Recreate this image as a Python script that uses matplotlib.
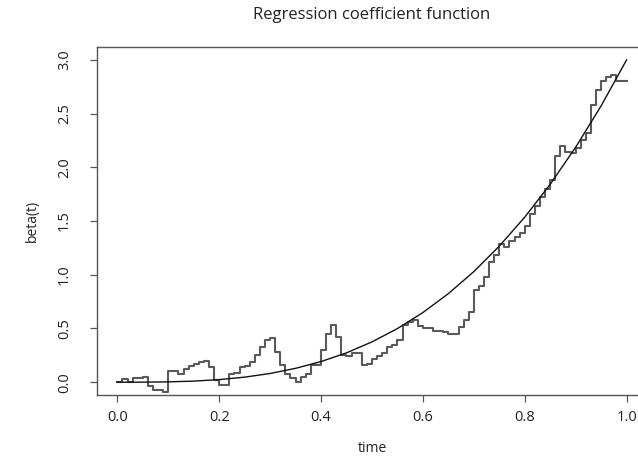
import numpy as np
import matplotlib
matplotlib.use("Agg")
import matplotlib.pyplot as plt

plt.rcParams['font.family'] = ['Open Sans', 'DejaVu Sans']

# true coefficient curve
curve_t = [0.0, 0.05, 0.1, 0.15, 0.2, 0.25, 0.3, 0.35, 0.4, 0.45, 0.5,
           0.55, 0.6, 0.65, 0.7, 0.75, 0.8, 0.85, 0.9, 0.95, 1.0]
curve_beta = [0.0, 0.0, 0.003, 0.01, 0.024, 0.047, 0.081, 0.129, 0.192, 0.273, 0.375,
              0.499, 0.648, 0.824, 1.029, 1.266, 1.536, 1.842, 2.187, 2.572, 3.0]

# step estimate, one value per 0.01 (last value closes the step at t=1)
step_t = [i / 100 for i in range(101)]
step_beta = [0.0, 0.03, 0.0, 0.04, 0.04, 0.05, -0.04, -0.07, -0.07, -0.09,
             0.1, 0.1, 0.08, 0.12, 0.15, 0.17, 0.19, 0.2, 0.14, 0.02,
             -0.03, -0.03, 0.08, 0.09, 0.14, 0.15, 0.19, 0.25, 0.33, 0.39,
             0.41, 0.28, 0.16, 0.08, 0.04, 0.0, 0.05, 0.08, 0.16, 0.16,
             0.3, 0.45, 0.53, 0.42, 0.25, 0.24, 0.27, 0.27, 0.16, 0.17,
             0.22, 0.24, 0.27, 0.33, 0.35, 0.39, 0.53, 0.56, 0.58, 0.52,
             0.5, 0.5, 0.48, 0.48, 0.47, 0.45, 0.45, 0.51, 0.58, 0.65,
             0.86, 0.9, 0.98, 1.12, 1.18, 1.29, 1.26, 1.31, 1.35, 1.39,
             1.45, 1.57, 1.64, 1.72, 1.8, 1.88, 2.11, 2.2, 2.14, 2.13,
             2.18, 2.25, 2.32, 2.58, 2.72, 2.8, 2.84, 2.86, 2.8, 2.8,
             2.8]

xticks = [0.0, 0.2, 0.4, 0.6, 0.8, 1.0]
yticks = [0.0, 0.5, 1.0, 1.5, 2.0, 2.5, 3.0]

fig = plt.figure(figsize=(6.38, 4.61), dpi=100)
# right edge of the box falls outside the picture, as in the original
ax = fig.add_axes([0.152, 0.143, 0.862, 0.755])

ax.step(step_t, step_beta, where='post', color='#5a5a5a', lw=1.5)
ax.plot(curve_t, curve_beta, color='#111111', lw=1.0)

ax.set_xlim(-0.04, 1.04)
ax.set_ylim(-0.12, 3.12)
ax.set_xticks(xticks)
ax.set_xticklabels(['%.1f' % v for v in xticks])
ax.set_yticks(yticks)
ax.set_yticklabels(['%.1f' % v for v in yticks], rotation=90, va='center')
ax.tick_params(direction='out', length=5, width=0.9, color='#555555',
               labelsize=10.5, labelcolor='#222222')
ax.tick_params(axis='x', pad=6)
ax.tick_params(axis='y', pad=13)
for s in ax.spines.values():
    s.set_color('#555555')
    s.set_linewidth(1.0)

ax.set_xlabel('time', fontsize=10, color='#222222', labelpad=11)
ax.set_ylabel('beta(t)', fontsize=10, color='#222222', labelpad=12)
fig.text(0.583, 0.967, 'Regression coefficient function', ha='center', va='center',
         fontsize=12, color='#222222')

fig.savefig('out.png', dpi=100)
